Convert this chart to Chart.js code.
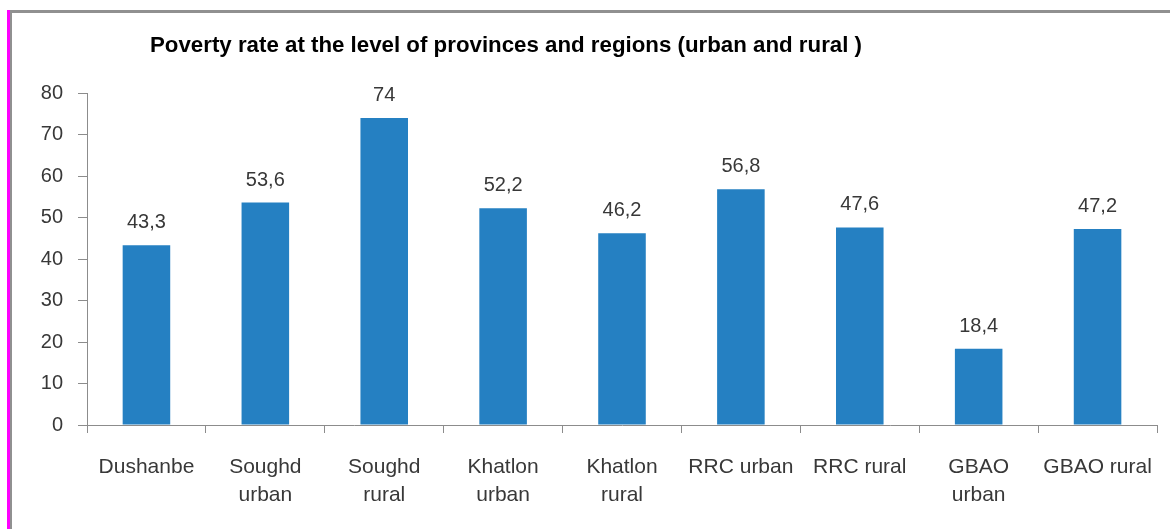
<!DOCTYPE html>
<html>
<head>
<meta charset="utf-8">
<script src="https://cdn.jsdelivr.net/npm/chart.js@4.4.1/dist/chart.umd.min.js"></script>
<style>
  html, body { margin: 0; padding: 0; background: #fff; }
  #wrap { position: relative; width: 1170px; height: 529px; overflow: hidden; }
  #pink { position: absolute; left: 7px; top: 10px; width: 3px; height: 519px; background: #ff00ff; }
  #frameLeft { position: absolute; left: 10px; top: 10px; width: 2px; height: 519px; background: #909090; }
  #frameTop { position: absolute; left: 10px; top: 10px; width: 1160px; height: 3px; background: #909090; }
  canvas { position: absolute; left: 0; top: 0; }
</style>
</head>
<body>
<div id="wrap">
  <canvas id="chart" width="1170" height="529"></canvas>
  <div id="pink"></div>
  <div id="frameLeft"></div>
  <div id="frameTop"></div>
</div>
<script>
// Datos del gráfico
const chartTitle = 'Poverty rate at the level of provinces and regions (urban and rural )';
const regions = [
    'Dushanbe',
    ['Soughd', 'urban'],
    ['Soughd', 'rural'],
    ['Khatlon', 'urban'],
    ['Khatlon', 'rural'],
    'RRC urban',
    'RRC rural',
    ['GBAO', 'urban'],
    'GBAO rural'
];
const povertyRate = [43.3, 53.6, 74, 52.2, 46.2, 56.8, 47.6, 18.4, 47.2];
const yTicks = [0, 10, 20, 30, 40, 50, 60, 70, 80];

const labelFont = '20px "Liberation Sans", Arial, sans-serif';

// Etiquetas de valor encima de cada barra (coma decimal)
const valueLabels = {
    id: 'valueLabels',
    afterDatasetsDraw(chart) {
        const ctx = chart.ctx;
        const meta = chart.getDatasetMeta(0);
        ctx.save();
        ctx.font = labelFont;
        ctx.fillStyle = '#383838';
        ctx.textAlign = 'center';
        ctx.textBaseline = 'alphabetic';
        meta.data.forEach((bar, i) => {
            const txt = String(povertyRate[i]).replace('.', ',');
            ctx.fillText(txt, bar.x, bar.y - 17);
        });
        ctx.restore();
    }
};

// Título dibujado a mano para poder ajustarlo al ancho del original
const titlePlugin = {
    id: 'titlePlugin',
    afterDraw(chart) {
        const ctx = chart.ctx;
        ctx.save();
        ctx.font = 'bold 22.5px "Liberation Sans", Arial, sans-serif';
        ctx.fillStyle = '#000';
        ctx.textAlign = 'center';
        ctx.textBaseline = 'alphabetic';
        ctx.fillText(chartTitle, 506, 52, 712);
        ctx.restore();
    }
};

new Chart(document.getElementById('chart'), {
    type: 'bar',
    data: {
        labels: regions,
        datasets: [{
            data: povertyRate,
            backgroundColor: '#2580c2',
            borderWidth: 0,
            categoryPercentage: 1,
            barPercentage: 0.4
        }]
    },
    options: {
        responsive: false,
        animation: false,
        layout: {
            autoPadding: false,
            padding: { left: 0, right: 13, top: 93, bottom: 0 }
        },
        plugins: {
            legend: { display: false },
            title: { display: false },
            tooltip: { enabled: false }
        },
        scales: {
            x: {
                grid: {
                    offset: true,
                    drawOnChartArea: false,
                    drawTicks: true,
                    tickLength: 8,
                    color: '#8c8c8c'
                },
                border: { color: '#8c8c8c', width: 1 },
                ticks: {
                    color: '#383838',
                    font: { family: '"Liberation Sans", Arial, sans-serif', size: 21, lineHeight: 1.35 },
                    padding: 20,
                    maxRotation: 0,
                    autoSkip: false
                },
                afterFit(scale) {
                    scale.height = 104;
                    scale.paddingLeft = 0;
                    scale.paddingRight = 0;
                }
            },
            y: {
                min: 0,
                max: 80,
                afterBuildTicks(scale) { scale.ticks = yTicks.map(v => ({ value: v })); },
                grid: {
                    drawOnChartArea: false,
                    drawTicks: true,
                    tickLength: 9,
                    color: '#8c8c8c'
                },
                border: { color: '#8c8c8c', width: 1 },
                ticks: {
                    color: '#383838',
                    font: { family: '"Liberation Sans", Arial, sans-serif', size: 20 },
                    padding: 15
                },
                afterFit(scale) {
                    scale.width = 87;
                    scale.paddingTop = 0;
                    scale.paddingBottom = 0;
                }
            }
        }
    },
    plugins: [valueLabels, titlePlugin]
});
</script>
</body>
</html>
